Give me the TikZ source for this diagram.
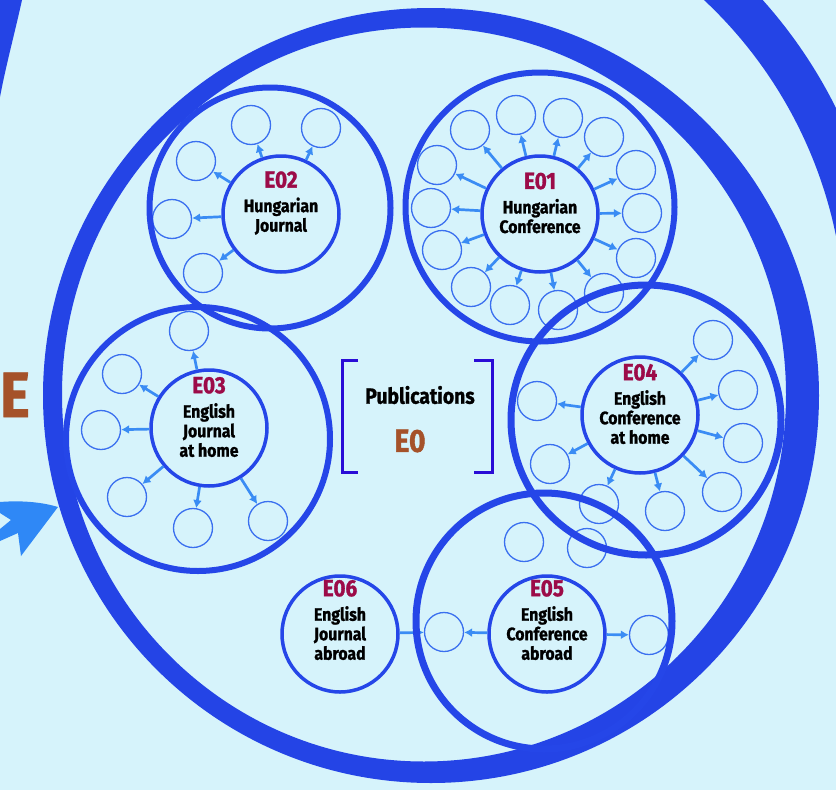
\documentclass[tikz,border=0pt]{standalone}
\usepackage{fontspec}
\setmainfont{Fira Sans}[FakeStretch=0.88, BoldFeatures={FakeBold=1.2}]
\usetikzlibrary{arrows.meta}
\definecolor{paleblue}{HTML}{D6F3FB}
\definecolor{spiralblue}{HTML}{2444E6}
\definecolor{ringblue}{HTML}{2546E8}
\definecolor{linkblue}{HTML}{3A8CF4}
\definecolor{leafblue}{HTML}{3A6FEF}
\definecolor{arrowblue}{HTML}{2F88F6}
\definecolor{codered}{HTML}{9C0B48}
\definecolor{rootbrown}{HTML}{A5522A}
\definecolor{bracketviolet}{HTML}{2A0CD6}

\tikzset{
  ring/.style={draw=ringblue, line width=6pt},
  hub/.style={circle, draw=ringblue, line width=3.5pt, minimum size=116pt, inner sep=0pt},
  leaf/.style={circle, draw=leafblue, line width=1.3pt, minimum size=39pt, inner sep=0pt},
  link/.style={-{Latex[length=8pt,width=9pt]}, linkblue, line width=2.7pt},
  hubtext/.style={align=center, font=\bfseries\fontsize{18}{19.5}\selectfont},
  bracket/.style={draw=bracketviolet, line width=3pt},
}
\newcommand{\ecode}[1]{{\fontsize{23.5}{24}\selectfont\color{codered}#1}\\[5pt]}

\begin{document}
\begin{tikzpicture}[x=1pt, y=-1pt]
  \useasboundingbox (0,0) rectangle (836,790);
  \fill[paleblue] (0,0) rectangle (836,790);

  % spiral
  \fill[spiralblue, even odd rule] (431,395.5) ellipse [x radius=388, y radius=387.5]
    (424,394.5) ellipse [x radius=362, y radius=367];
  \fill[spiralblue] (0,0) -- (22,0) .. controls (15,32) and (6,65) .. (0,97) -- cycle;
  \begin{scope}
    \clip (0,0) rectangle (836,790);
    \draw[spiralblue, line width=42pt] ([shift={(-55:466)}]400,325) arc [start angle=-55, end angle=-5, radius=466];
  \end{scope}

  \node[font=\bfseries\fontsize{64}{64}\selectfont, text=rootbrown, anchor=base west, inner sep=0pt] (edgeE) at (0,417) {E};
  \fill[arrowblue] (0,502) .. controls (25,500) and (45,503) .. (58,507) -- (21,556) -- (18,533)
    -- (0,541) -- (0,529) -- (11,520) -- (0,513) -- cycle;

  % hubs
  \node[hub] (e01) at (540,214) {};
  \node[hub] (e02) at (281,214) {};
  \node[hub] (e03) at (209,428) {};
  \node[hub] (e04) at (640,415) {};
  \node[hub] (e05) at (547,634) {};
  \node[hub] (e06) at (340,634) {};

  \node[hubtext] at ([yshift=11pt]e01.center) {\ecode{E01}Hungarian\\Conference};
  \node[hubtext] at ([yshift=11pt]e02.center) {\ecode{E02}Hungarian\\Journal};
  \node[hubtext] at ([yshift=11pt]e03.center) {\ecode{E03}English\\Journal\\at home};
  \node[hubtext] at ([yshift=11pt]e04.center) {\ecode{E04}English\\Conference\\at home};
  \node[hubtext] at ([yshift=14pt]e05.center) {\ecode{E05}English\\Conference\\abroad};
  \node[hubtext] at ([yshift=14pt]e06.center) {\ecode{E06}English\\Journal\\abroad};

  % leaves
  \foreach \k/\x/\y in {a/516/115, b/563/118, c/604/137, d/636/170, e/642/213, f/636/258, g/604/293,
      h/558/310, i/510/305, j/471/287, k/442/250, l/431/208, m/437/165, n/470/130} {
    \node[leaf] (e01\k) at (\x,\y) {};
    \draw[link] (e01) -- (e01\k);
  }
  \foreach \k/\x/\y in {a/251/125, b/321/128, c/196/161, d/172/219, e/203/273} {
    \node[leaf] (e02\k) at (\x,\y) {};
    \draw[link] (e02) -- (e02\k);
  }
  \foreach \k/\x/\y in {a/189/331, b/122/374, c/101/430, d/127/497, e/193/528, f/268/521} {
    \node[leaf] (e03\k) at (\x,\y) {};
    \draw[link] (e03) -- (e03\k);
  }
  \foreach \k/\x/\y in {a/713/340, b/738/390, c/743/443, d/722/492, e/665/511, f/599/504,
      g/550/464, h/537/401} {
    \node[leaf] (e04\k) at (\x,\y) {};
    \draw[link] (e04) -- (e04\k);
  }
  \node[leaf] (e05a) at (649,635) {};
  \node[leaf] (e05b) at (444,632) {};
  \node[leaf] (e05c) at (524,542) {};
  \node[leaf] (e05d) at (587,548) {};
  \draw[link] (e05) -- (e05a);
  \draw[link] (e05) -- (e05b);
  \draw[link] (e06) -- (e05b);

  % rings
  \draw[ring] (540,207) circle [radius=134.5];
  \draw[ring] (270,208) circle [radius=120.5];
  \draw[ring] (198,439) circle [radius=132];
  \draw[ring, line width=7pt] (646,420) circle [radius=135];
  \draw[ring, line width=7pt] (544,621) circle [radius=128];

  % root
  \node[font=\bfseries\fontsize{22}{24}\selectfont] (pub) at (420,395) {Publications};
  \node[font=\bfseries\fontsize{32}{32}\selectfont, text=rootbrown] (root) at (410,441) {E0};
  \draw[bracket] (358,360) -- (342,360) -- (342,472) -- (358,472);
  \draw[bracket] (474,360) -- (492,360) -- (492,472) -- (474,472);
\end{tikzpicture}
\end{document}
